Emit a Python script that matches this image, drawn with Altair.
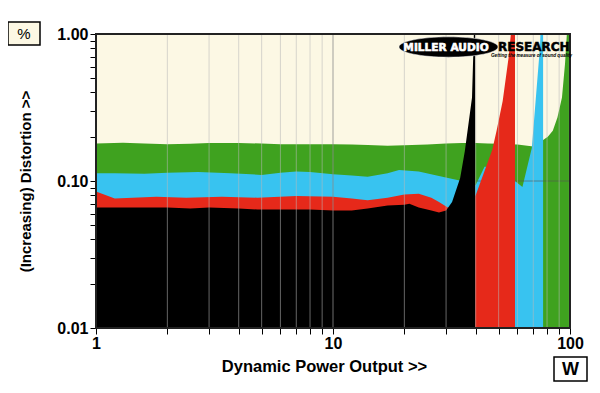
import altair as alt
import pandas as pd

# ---------------- data ----------------
green_w = [1, 1.3, 1.6, 2, 2.5, 3, 4, 5, 6, 7, 8, 10, 12, 14, 17, 20, 25, 30, 35, 40, 45, 50, 60, 70, 75, 77, 80.6, 84.6, 88.5, 92.5, 95.3, 97, 99]
green_v = [0.180, 0.182, 0.180, 0.178, 0.179, 0.181, 0.181, 0.180, 0.178, 0.178, 0.178, 0.178, 0.177, 0.176, 0.174, 0.175, 0.177, 0.180, 0.181, 0.181, 0.180, 0.179, 0.177, 0.172, 0.180, 0.19, 0.20, 0.22, 0.27, 0.37, 0.63, 1.0, 1.3]

cyan_w = [1, 1.2, 1.6, 2, 2.7, 3.7, 5, 6, 7, 8, 10, 12, 14, 17, 19, 23, 28, 32, 35, 38, 40, 43.6, 50, 57, 58.6, 63, 69, 74.7, 75.5, 77]
cyan_v = [0.113, 0.113, 0.112, 0.114, 0.115, 0.113, 0.110, 0.114, 0.116, 0.115, 0.111, 0.109, 0.107, 0.113, 0.119, 0.116, 0.108, 0.103, 0.100, 0.090, 0.094, 0.125, 0.125, 0.110, 0.100, 0.091, 0.168, 0.82, 1.3, 1.3]

red_w = [1, 1.2, 1.8, 2.4, 3.4, 4.8, 7, 10, 12, 14, 17, 20, 23, 26, 28, 30.5, 35, 40, 47, 49, 52, 55, 56.3, 58.6]
red_v = [0.085, 0.076, 0.078, 0.077, 0.078, 0.077, 0.079, 0.078, 0.076, 0.074, 0.077, 0.081, 0.082, 0.077, 0.072, 0.066, 0.065, 0.080, 0.163, 0.22, 0.35, 0.68, 1.0, 1.3]

black_w = [1, 1.5, 2, 2.5, 3, 4, 4.8, 6, 7, 8, 10, 12, 14, 17, 20, 21, 23, 26, 28, 30, 31.8, 34.4, 36, 38.6, 39.3, 39.8]
black_v = [0.066, 0.066, 0.066, 0.065, 0.066, 0.065, 0.064, 0.064, 0.064, 0.064, 0.063, 0.063, 0.065, 0.068, 0.069, 0.070, 0.066, 0.063, 0.061, 0.063, 0.072, 0.105, 0.16, 0.37, 1.0, 1.3]

series_names = ["green", "cyan", "red", "black"]
series_colors = ["#3fa21f", "#38c3f0", "#e6291a", "#000000"]

x_ticks = [1, 2, 3, 4, 5, 6, 7, 8, 9, 10, 20, 30, 40, 50, 60, 70, 80, 90, 100]
y_ticks = [0.01, 0.02, 0.03, 0.04, 0.05, 0.06, 0.07, 0.08, 0.09,
           0.1, 0.2, 0.3, 0.4, 0.5, 0.6, 0.7, 0.8, 0.9, 1.0]
grid_minor = [2, 3, 4, 5, 6, 7, 8, 9, 20, 30, 40, 50, 60, 70, 80, 90]
grid_major = [10]

x_title = "Dynamic Power Output >>"
y_title = "(Increasing) Distortion >>"

# ---------------- build table ----------------
frames = []
for name, ws, vs in zip(series_names, [green_w, cyan_w, red_w, black_w],
                        [green_v, cyan_v, red_v, black_v]):
    frames.append(pd.DataFrame({"series": name, "watts": ws, "pct": vs}))
df = pd.concat(frames, ignore_index=True)

FONT = "Liberation Sans"
CREAM = "#fcf8e4"

x_enc = alt.X(
    "watts:Q",
    scale=alt.Scale(type="log", domain=[1, 100], nice=False),
    axis=alt.Axis(
        values=x_ticks, format="d",
        labelExpr="datum.value == 1 || datum.value == 10 || datum.value == 100 ? datum.label : ''",
        grid=False, domain=False, tickSize=6, tickColor="#000", labelColor="#000",
        labelFont=FONT, labelFontSize=16, labelFontWeight="bold", labelPadding=1,
        labelFlush=False, labelOverlap=False,
        title=x_title, titleFont=FONT, titleFontSize=16.5, titleFontWeight="bold",
        titleColor="#000", titleX=228, titleY=38, titleBaseline="middle",
    ),
)
y_enc = alt.Y(
    "pct:Q",
    scale=alt.Scale(type="log", domain=[0.01, 1], nice=False),
    axis=alt.Axis(
        values=y_ticks, format=".2f",
        labelExpr="datum.value == 0.01 || datum.value == 0.1 || datum.value == 1 ? datum.label : ''",
        grid=False, domain=False, tickSize=6, tickColor="#000", labelColor="#000",
        labelFont=FONT, labelFontSize=16, labelFontWeight="bold", labelPadding=2,
        labelFlush=False, labelOverlap=False,
        title=y_title, titleFont=FONT, titleFontSize=15, titleFontWeight="bold",
        titleColor="#000", titleX=-71, titleY=147, titleAngle=270,
        titleBaseline="middle", titleAlign="center",
    ),
)


def area_layer(name, col):
    return (
        alt.Chart(df).transform_filter(alt.datum.series == name)
        .mark_area(color=col, clip=True, interpolate="linear", opacity=1)
        .encode(x=x_enc, y=y_enc, y2=alt.datum(0.01))
    )


layers = [area_layer(series_names[0], series_colors[0]),
          area_layer(series_names[1], series_colors[1])]

hline_df = pd.DataFrame({"watts": [40], "watts2": [100], "pct": [0.1]})
layers.append(
    alt.Chart(hline_df).mark_rule(color="#555555", opacity=0.6, strokeWidth=1)
    .encode(x=x_enc, x2="watts2:Q", y=y_enc)
)
layers.append(area_layer(series_names[2], series_colors[2]))
layers.append(area_layer(series_names[3], series_colors[3]))

grid_df = pd.DataFrame({"watts": grid_minor})
layers.append(
    alt.Chart(grid_df).mark_rule(color="#b8b8b8", opacity=0.55, strokeWidth=1)
    .encode(x=x_enc)
)
gridM_df = pd.DataFrame({"watts": grid_major})
layers.append(
    alt.Chart(gridM_df).mark_rule(color="#8a8a8a", opacity=0.8, strokeWidth=1)
    .encode(x=x_enc)
)

# plot frame on top
layers.append(
    alt.Chart(pd.DataFrame({"a": [0]})).mark_rect(filled=False, stroke="#222", strokeWidth=2)
    .encode(x=alt.value(0), x2=alt.value("width"), y=alt.value(0), y2=alt.value("height"))
)

# logo
ellipse = "M -1 0 A 1 0.205 0 1 0 1 0 A 1 0.205 0 1 0 -1 0 Z"
one = pd.DataFrame({"a": [0]})
layers.append(
    alt.Chart(one).mark_point(shape=ellipse, filled=True, color="#000", opacity=1, size=9801,
                              stroke="#fff", strokeWidth=0.5)
    .encode(x=alt.value(352.5), y=alt.value(13))
)
layers.append(
    alt.Chart(one).mark_text(text="MILLER AUDIO", font="DejaVu Sans", fontWeight="bold",
                             fontSize=10.6, color="#fff", stroke="#fff", strokeWidth=0.6,
                             align="center", baseline="middle")
    .encode(x=alt.value(350), y=alt.value(13.5))
)
layers.append(
    alt.Chart(one).mark_text(text="RESEARCH", font="DejaVu Sans", fontWeight="bold",
                             fontSize=12, color="#000", stroke="#000", strokeWidth=0.5,
                             align="left", baseline="middle")
    .encode(x=alt.value(402), y=alt.value(13))
)
layers.append(
    alt.Chart(one).mark_text(text="Getting the measure of sound quality", font=FONT,
                             fontWeight="bold", fontStyle="italic", fontSize=4.6,
                             color="#000", align="left", baseline="middle")
    .encode(x=alt.value(395), y=alt.value(22))
)

# unit boxes
layers.append(
    alt.Chart(one).mark_rect(fill=CREAM, stroke="#000", strokeWidth=1.5)
    .encode(x=alt.value(-88), x2=alt.value(-56), y=alt.value(-12), y2=alt.value(11))
)
layers.append(
    alt.Chart(one).mark_text(text="%", font=FONT, fontSize=15, color="#000",
                             align="center", baseline="middle")
    .encode(x=alt.value(-72), y=alt.value(0))
)
layers.append(
    alt.Chart(one).mark_rect(fill="#ffffff", stroke="#000", strokeWidth=1.5)
    .encode(x=alt.value(458), x2=alt.value(491), y=alt.value(323), y2=alt.value(347))
)
layers.append(
    alt.Chart(one).mark_text(text="W", font=FONT, fontSize=18, fontWeight="bold", color="#000",
                             align="center", baseline="middle")
    .encode(x=alt.value(474.5), y=alt.value(335.5))
)

chart = (
    alt.layer(*layers)
    .properties(
        width=474, height=294,
        padding={"left": 88, "top": 26, "right": 20, "bottom": 56},
        autosize=alt.AutoSizeParams(type="none"),
        background="#ffffff",
    )
    .configure_view(fill=CREAM, stroke=None)
)

chart.save("out.html", embed_options={"renderer": "svg", "actions": False})
